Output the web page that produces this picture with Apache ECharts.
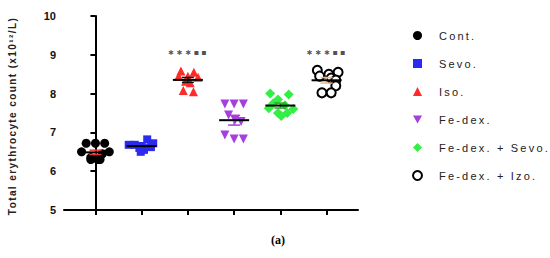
<!DOCTYPE html>
<html><head><meta charset="utf-8">
<script src="https://cdn.jsdelivr.net/npm/echarts@6/dist/echarts.min.js"></script>
<style>
html,body{margin:0;padding:0;background:#fff;}
#c{width:550px;height:258px;}
#c text[style*="Liberation Sans"]{letter-spacing:2.2px;}
#c text[style*="Liberation Sans"][style*="bold"]{letter-spacing:1.4px;}
#c text[style*="DejaVu Sans"]{letter-spacing:2px;}
</style></head>
<body><div id="c"></div>
<script>
// ---- data ----
var groups = ['Cont.', 'Sevo.', 'Iso.', 'Fe-dex.', 'Fe-dex. + Sevo.', 'Fe-dex. + Izo.'];
var contVals  = [6.72, 6.72, 6.72, 6.50, 6.50, 6.45, 6.35, 6.30, 6.30, 6.30];
var contJit   = [-0.2, 0, 0.2, -0.3, 0.3, 0.15, -0.1, -0.1, 0.05, 0.1];
var sevoVals  = [6.82, 6.72, 6.68, 6.68, 6.65, 6.62, 6.60, 6.55, 6.50];
var sevoJit   = [0.12, 0.25, -0.28, -0.15, 0.0, 0.2, -0.05, 0.05, -0.02];
var isoVals   = [8.58, 8.55, 8.45, 8.45, 8.42, 8.32, 8.28, 8.08, 8.05];
var isoJit    = [-0.15, 0.13, -0.2, 0.0, 0.22, -0.05, 0.05, -0.1, 0.12];
var fedexVals = [7.73, 7.73, 7.73, 7.45, 7.32, 7.28, 6.93, 6.83, 6.83];
var fedexJit  = [-0.2, 0, 0.2, -0.12, 0.02, 0.15, -0.2, 0, 0.2];
var fsVals    = [8.00, 7.98, 7.85, 7.75, 7.70, 7.62, 7.60, 7.50, 7.50, 7.42];
var fsJit     = [-0.22, 0.18, -0.05, -0.15, 0.1, -0.25, 0.28, -0.05, 0.15, 0.02];
var fiVals    = [8.60, 8.50, 8.55, 8.45, 8.40, 8.35, 8.20, 8.02, 8.02];
var fiJit     = [-0.2, 0.05, 0.25, -0.15, 0.1, 0.2, 0.2, -0.1, 0.1];
var sigText   = '\u2217\u2217\u2217\u25AA\u25AA';
var sigGroups = [2, 5];
var sigLevel  = [9.05, 9.07];
var yTicks    = [5, 6, 7, 8, 9, 10];
var yTitle    = 'Total erythrocyte count (x10\u00B9\u00B2/L)';

var allVals = [contVals, sevoVals, isoVals, fedexVals, fsVals, fiVals];
var allJit  = [contJit, sevoJit, isoJit, fedexJit, fsJit, fiJit];
var colors  = ['#000000', '#2a2af0', '#ff2a2a', '#a63fe0', '#33ee44', '#000000'];
var errColors = ['#e03838', '#2a2af0', '#111111', '#a63fe0', '#22aa22', '#f0b888'];
var downTri = 'path://M0,0 L10,0 L5,9 Z';
var symbols = ['circle', 'rect', 'triangle', downTri, 'diamond', 'circle'];
var sizes   = [9, 8, 9, 9, 10, 9];

function mean(a){var s=0;a.forEach(function(v){s+=v;});return s/a.length;}
function sem(a){var m=mean(a),s=0;a.forEach(function(v){s+=(v-m)*(v-m);});return Math.sqrt(s/(a.length-1))/Math.sqrt(a.length);}

var series = [];
groups.forEach(function(g, i){
  var isOpen = (i === 5);
  series.push({
    name: g, type: 'scatter', symbol: symbols[i], symbolSize: sizes[i],
    itemStyle: isOpen ? {color: '#ffffff', borderColor: '#000', borderWidth: 2, opacity: 1}
                      : {color: colors[i], opacity: 1},
    emphasis: {disabled: true},
    data: allVals[i].map(function(v, k){ return [i + allJit[i][k], v]; }),
    z: 3
  });
});

var stats = groups.map(function(g, i){ return [i, mean(allVals[i]), sem(allVals[i])]; });
series.push({
  type: 'custom', silent: true, z: 5,
  renderItem: function(params, api){
    var i = api.value(0), m = api.value(1), s = api.value(2);
    var c = api.coord([i, m]);
    var hi = api.coord([i, m + s]), lo = api.coord([i, m - s]);
    var ec = errColors[i];
    return {type: 'group', children: [
      {type: 'line', shape: {x1: c[0], y1: hi[1], x2: c[0], y2: lo[1]}, style: {stroke: ec, lineWidth: 1.5}},
      {type: 'line', shape: {x1: c[0]-6, y1: hi[1], x2: c[0]+6, y2: hi[1]}, style: {stroke: ec, lineWidth: 1.5}},
      {type: 'line', shape: {x1: c[0]-6, y1: lo[1], x2: c[0]+6, y2: lo[1]}, style: {stroke: ec, lineWidth: 1.5}},
      {type: 'line', shape: {x1: c[0]-15, y1: c[1], x2: c[0]+15, y2: c[1]}, style: {stroke: '#000', lineWidth: 2}}
    ]};
  },
  data: stats
});
series.push({
  type: 'scatter', silent: true, symbolSize: 0,
  label: {show: true, position: 'inside', formatter: sigText,
          fontFamily: 'DejaVu Sans', fontWeight: 'bold', fontSize: 8, color: '#222'},
  data: sigGroups.map(function(g, k){ return [g, sigLevel[k]]; })
});

var chart = echarts.init(document.getElementById('c'), null, {renderer: 'svg'});
chart.setOption({
  animation: false,
  backgroundColor: '#fff',
  grid: {left: 64, right: 192, top: 16, bottom: 48},
  xAxis: {
    type: 'value', min: -0.68, max: 5.68,
    splitLine: {show: false},
    axisLine: {show: true, lineStyle: {color: '#000', width: 2}},
    axisTick: {show: true, customValues: [0,1,2,3,4,5], length: 5, lineStyle: {color: '#000', width: 2}},
    axisLabel: {show: false}
  },
  yAxis: {
    type: 'value', min: 5, max: 10, interval: 1,
    splitLine: {show: false},
    axisLine: {show: true, lineStyle: {color: '#000', width: 2}},
    axisTick: {show: true, length: 5, lineStyle: {color: '#000', width: 2}},
    axisLabel: {fontFamily: 'Arial', fontWeight: 'bold', fontSize: 11, color: '#111', margin: 8,
                formatter: function(v){ return yTicks.indexOf(v) >= 0 ? String(v) : ''; }}
  },
  legend: {
    orient: 'vertical', left: 407, top: 25, itemWidth: 9, itemHeight: 9, itemGap: 17,
    data: groups,
    textStyle: {fontFamily: 'Liberation Sans', fontSize: 11, color: '#222', padding: [0,0,0,12]}
  },
  graphic: [
    {type: 'text', x: 12, y: 116, rotation: Math.PI/2,
     style: {text: yTitle, align: 'center', verticalAlign: 'middle',
             fontFamily: 'Liberation Sans', fontWeight: 'bold', fontSize: 10, fill: '#222'}},
    {type: 'text', x: 278, y: 240,
     style: {text: '(a)', align: 'center', verticalAlign: 'middle',
             fontFamily: 'Times New Roman', fontWeight: 'bold', fontSize: 12, fill: '#000'}}
  ],
  series: series
});
</script></body></html>
